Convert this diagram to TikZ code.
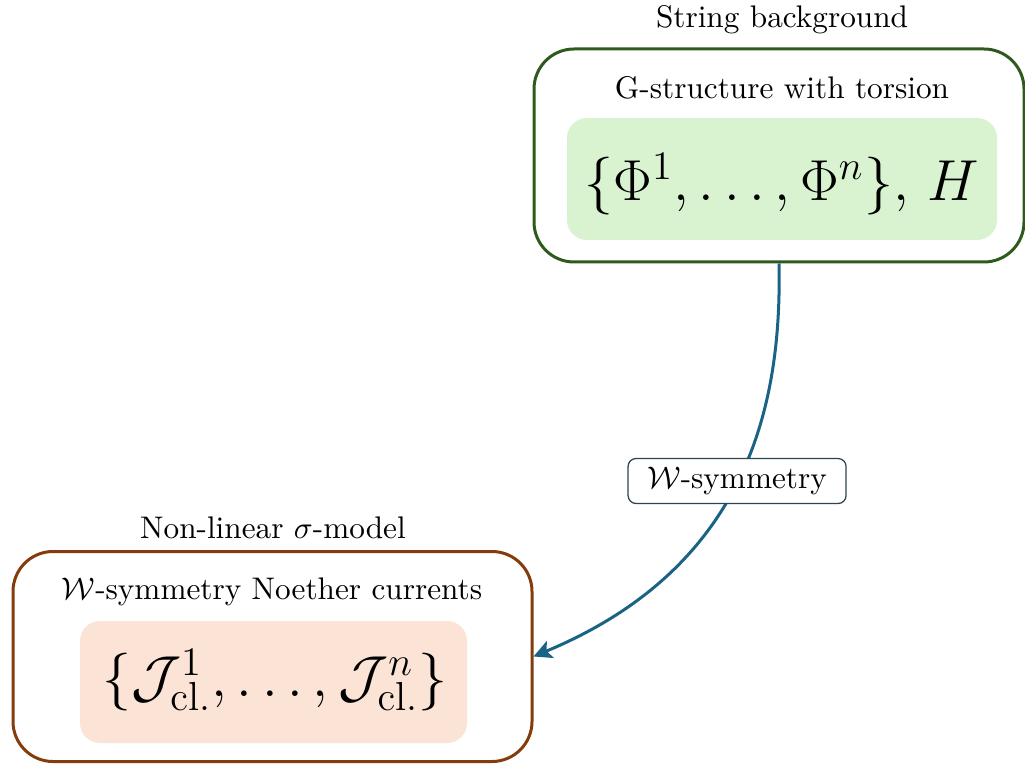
\RequirePackage{fix-cm}
\documentclass[tikz,border=0pt]{standalone}
\usetikzlibrary{arrows.meta}
\definecolor{boxgreen}{HTML}{2F5A1E}
\definecolor{fillgreen}{HTML}{D9F2D0}
\definecolor{boxbrown}{HTML}{843C0C}
\definecolor{fillorange}{HTML}{FBE3D6}
\definecolor{arrowblue}{HTML}{1B6385}
\definecolor{labelborder}{HTML}{2F4350}
\newdimen\pxu
\pxu=0.32pt
\begin{document}
\begin{tikzpicture}[x=\pxu,y=-\pxu,
  outerbox/.style={draw, line width=3\pxu, rounded corners=40\pxu, fill=white, inner sep=0pt},
  innerbox/.style={rounded corners=20\pxu, inner sep=0pt},
  arrowlabel/.style={draw=labelborder, line width=0.4pt, fill=white, rounded corners=8\pxu, inner sep=0pt, minimum width=218\pxu, minimum height=45\pxu},
  bigmath/.style={inner sep=0pt, font=\fontsize{18.5}{22}\selectfont},
  plain/.style={inner sep=0pt}]
\useasboundingbox (0,0) rectangle (1025,764);
% top outer box
\node[outerbox, draw=boxgreen, minimum width=490\pxu, minimum height=213\pxu] (top) at (779,155.5) {};
\node[innerbox, fill=fillgreen, minimum width=430\pxu, minimum height=122\pxu] (topin) at (782,179) {};
\node[bigmath] (topmath) at (782,184) {$\{\Phi^1,\ldots,\Phi^n\},\,H$};
\node[plain] (toptitle) at (782,88) {G-structure with torsion};
\node[plain] (toplabel) at (782,20) {String background};
% bottom outer box
\node[outerbox, draw=boxbrown, minimum width=519\pxu, minimum height=210\pxu] (bot) at (272.5,656.5) {};
\node[innerbox, fill=fillorange, minimum width=387\pxu, minimum height=122\pxu] (botin) at (273.5,682) {};
\node[bigmath] (botmath) at (275,680) {$\{\mathcal{J}^1_{\mathrm{cl.}},\ldots,\mathcal{J}^n_{\mathrm{cl.}}\}$};
\node[plain] (bottitle) at (272,592) {$\mathcal{W}$-symmetry Noether currents};
\node[plain] (botlabel) at (273,528) {Non-linear $\sigma$-model};
% arrow
\draw[arrowblue, line width=0.96pt, -{Stealth[length=5.8pt,width=5.8pt,inset=1.3pt]}]
  (top.south) .. controls (782,408) and (746,568) .. (bot.east)
  node[pos=0.5, arrowlabel, text=black] (wlab) {$\mathcal{W}$-symmetry};
\end{tikzpicture}
\end{document}
